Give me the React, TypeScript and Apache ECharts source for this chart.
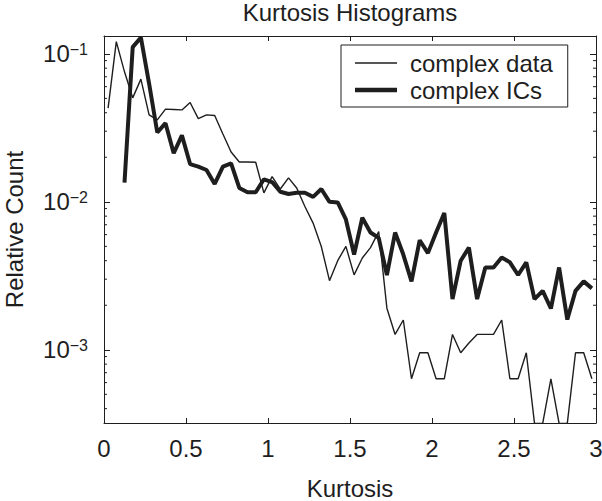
import React, { useEffect, useRef } from "react";
import * as echarts from "echarts";

const kurtosisBins = [
  0.025, 0.075, 0.125, 0.175, 0.225, 0.275, 0.325, 0.375, 0.425, 0.475,
  0.525, 0.575, 0.625, 0.675, 0.725, 0.775, 0.825, 0.875, 0.925, 0.975,
  1.025, 1.075, 1.125, 1.175, 1.225, 1.275, 1.325, 1.375, 1.425, 1.475,
  1.525, 1.575, 1.625, 1.675, 1.725, 1.775, 1.825, 1.875, 1.925, 1.975,
  2.025, 2.075, 2.125, 2.175, 2.225, 2.275, 2.325, 2.375, 2.425, 2.475,
  2.525, 2.575, 2.625, 2.675, 2.725, 2.775, 2.825, 2.875, 2.925, 2.975,
];

const complexData = [
  0.043, 0.121, 0.0756, 0.0504, 0.0675, 0.0387, 0.0358, 0.0423, 0.0421, 0.0418,
  0.0469, 0.0365, 0.0387, 0.0383, 0.0287, 0.0217, 0.0186, 0.0186, 0.0185, 0.0115,
  0.0148, 0.0122, 0.0145, 0.0124, 0.00929, 0.00718, 0.00499, 0.00293, 0.004, 0.005,
  0.00321, 0.00417, 0.0049, 0.00629, 0.00191, 0.00127, 0.00159, 0.000637, 0.000955, 0.000955,
  0.000637, 0.000637, 0.00127, 0.000955, 0.00111, 0.00127, 0.00127, 0.00127, 0.00159, 0.000637,
  0.000637, 0.000955, 0.000318, 0.000318, 0.000637, 0.000318, 0.000318, 0.000955, 0.000955, 0.000637,
];

const complexICs = [
  null, null, 0.0135, 0.111, 0.129, 0.063, 0.0294, 0.034, 0.0213, 0.0281,
  0.018, 0.0173, 0.0164, 0.0132, 0.0173, 0.0182, 0.0124, 0.0116, 0.0116, 0.0142,
  0.0136, 0.0117, 0.0113, 0.0115, 0.0115, 0.0108, 0.0122, 0.01, 0.0099, 0.0076,
  0.0044, 0.0078, 0.0062, 0.0057, 0.0032, 0.0062, 0.0044, 0.0029, 0.0055, 0.0045,
  0.0062, 0.0084, 0.0022, 0.004, 0.0049, 0.0022, 0.0036, 0.0036, 0.0042, 0.0039,
  0.0032, 0.0039, 0.0022, 0.0025, 0.0019, 0.0036, 0.0016, 0.0025, 0.0029, 0.0026,
];

const minorTickValues = [
  0.0004, 0.0005, 0.0006, 0.0007, 0.0008, 0.0009,
  0.002, 0.003, 0.004, 0.005, 0.006, 0.007, 0.008, 0.009,
  0.02, 0.03, 0.04, 0.05, 0.06, 0.07, 0.08, 0.09,
];

const X_MIN = 0;
const X_MAX = 3;
const X_STEP = 0.5;
const Y_MIN = 0.00032;
const Y_MAX = 0.132;

const FONT = "'Liberation Sans', Arial, Helvetica, sans-serif";
const INK = "#1e1e1e";

function yLabel(v: number): string {
  const e = Math.log10(v);
  const r = Math.round(e);
  if (Math.abs(e - r) > 1e-6) return "";
  const exp = r < 0 ? "\u2212" + -r : String(r);
  return `{b|10}{s|${exp}}`;
}

export default function App() {
  const ref = useRef<HTMLDivElement>(null);

  useEffect(() => {
    if (!ref.current) return;
    const chart = echarts.init(ref.current, undefined, { renderer: "svg" });

    const dataPairs = kurtosisBins.map((x, i) => [x, complexData[i]]);
    const icPairs = kurtosisBins.map((x, i) => [x, complexICs[i] == null ? "-" : complexICs[i]]);

    const axisLine = { show: true, onZero: false, lineStyle: { color: INK, width: 1 } };

    chart.setOption({
      animation: false,
      backgroundColor: "#ffffff",
      textStyle: { fontFamily: FONT },
      title: {
        text: "Kurtosis Histograms",
        left: 350,
        top: 0,
        padding: 0,
        textAlign: "center",
        textStyle: { fontFamily: FONT, fontSize: 24, fontWeight: "normal", color: INK },
      },
      grid: { left: 104, right: 6, top: 36, bottom: 78, containLabel: false, outerBoundsMode: "none" },
      legend: {
        orient: "vertical",
        left: 341,
        top: 45,
        padding: [6, 15, 5, 14],
        borderColor: INK,
        borderWidth: 1,
        backgroundColor: "#ffffff",
        itemWidth: 42,
        itemHeight: 14,
        itemGap: 3,
        symbolKeepAspect: true,
        itemStyle: { borderWidth: 0, color: INK },
        data: [
          { name: "complex data", icon: "path://M0,0H42V1.5H0Z" },
          { name: "complex ICs", icon: "path://M0,0H42V4.5H0Z" },
        ],
        textStyle: { fontFamily: FONT, fontSize: 24, color: INK, padding: [0, 0, 0, 8] },
      },
      xAxis: [
        {
          type: "value",
          min: X_MIN,
          max: X_MAX,
          interval: X_STEP,
          position: "bottom",
          name: "Kurtosis",
          nameLocation: "middle",
          nameGap: 55,
          nameTextStyle: { fontFamily: FONT, fontSize: 24, lineHeight: 21, color: INK },
          axisLine,
          axisTick: { show: true, inside: true, length: 5, lineStyle: { color: INK } },
          axisLabel: {
            show: true,
            margin: 13,
            fontFamily: FONT,
            fontSize: 24,
            color: INK,
            formatter: (v: number) => String(v),
          },
          splitLine: { show: false },
        },
        {
          type: "value",
          min: X_MIN,
          max: X_MAX,
          interval: X_STEP,
          position: "top",
          axisLine,
          axisTick: { show: true, inside: true, length: 5, lineStyle: { color: INK } },
          axisLabel: { show: false },
          splitLine: { show: false },
        },
      ],
      yAxis: [
        {
          type: "log",
          logBase: 10,
          min: Y_MIN,
          max: Y_MAX,
          position: "left",
          name: "Relative Count",
          nameLocation: "middle",
          nameRotate: 90,
          nameGap: 78,
          nameTextStyle: { fontFamily: FONT, fontSize: 24, color: INK },
          axisLine,
          axisTick: { show: true, inside: true, length: 6, lineStyle: { color: INK } },
          axisLabel: {
            show: true,
            margin: 16,
            showMinLabel: false,
            showMaxLabel: false,
            formatter: yLabel,
            rich: {
              b: { fontFamily: FONT, fontSize: 24, color: INK, verticalAlign: "bottom" },
              s: { fontFamily: FONT, fontSize: 16, color: INK, verticalAlign: "top" },
            },
          },
          splitLine: { show: false },
        },
        {
          type: "log",
          logBase: 10,
          min: Y_MIN,
          max: Y_MAX,
          position: "right",
          axisLine,
          axisTick: { show: true, inside: true, length: 6, lineStyle: { color: INK } },
          axisLabel: { show: false },
          splitLine: { show: false },
        },
      ],
      series: [
        {
          name: "complex data",
          type: "line",
          data: dataPairs,
          showSymbol: false,
          symbol: "none",
          clip: true,
          lineStyle: { color: INK, width: 1.4 },
          itemStyle: { color: INK },
          z: 3,
        },
        {
          name: "complex ICs",
          type: "line",
          data: icPairs,
          showSymbol: false,
          symbol: "none",
          connectNulls: false,
          clip: true,
          lineStyle: { color: INK, width: 4 },
          itemStyle: { color: INK },
          z: 4,
        },
        {
          name: "minor ticks",
          type: "custom",
          silent: true,
          clip: false,
          data: minorTickValues.map((v) => [X_MIN, v]),
          renderItem: (_params: any, api: any) => {
            const v = api.value(1);
            const l = api.coord([X_MIN, v]);
            const r = api.coord([X_MAX, v]);
            return {
              type: "group",
              children: [
                { type: "line", shape: { x1: l[0], y1: l[1], x2: l[0] + 3, y2: l[1] }, style: { stroke: INK, lineWidth: 1 } },
                { type: "line", shape: { x1: r[0] - 3, y1: r[1], x2: r[0], y2: r[1] }, style: { stroke: INK, lineWidth: 1 } },
              ],
            };
          },
          z: 5,
        },
      ],
    });

    return () => chart.dispose();
  }, []);

  return <div ref={ref} style={{ width: 602, height: 501, position: "absolute", left: 0, top: 0 }} />;
}
